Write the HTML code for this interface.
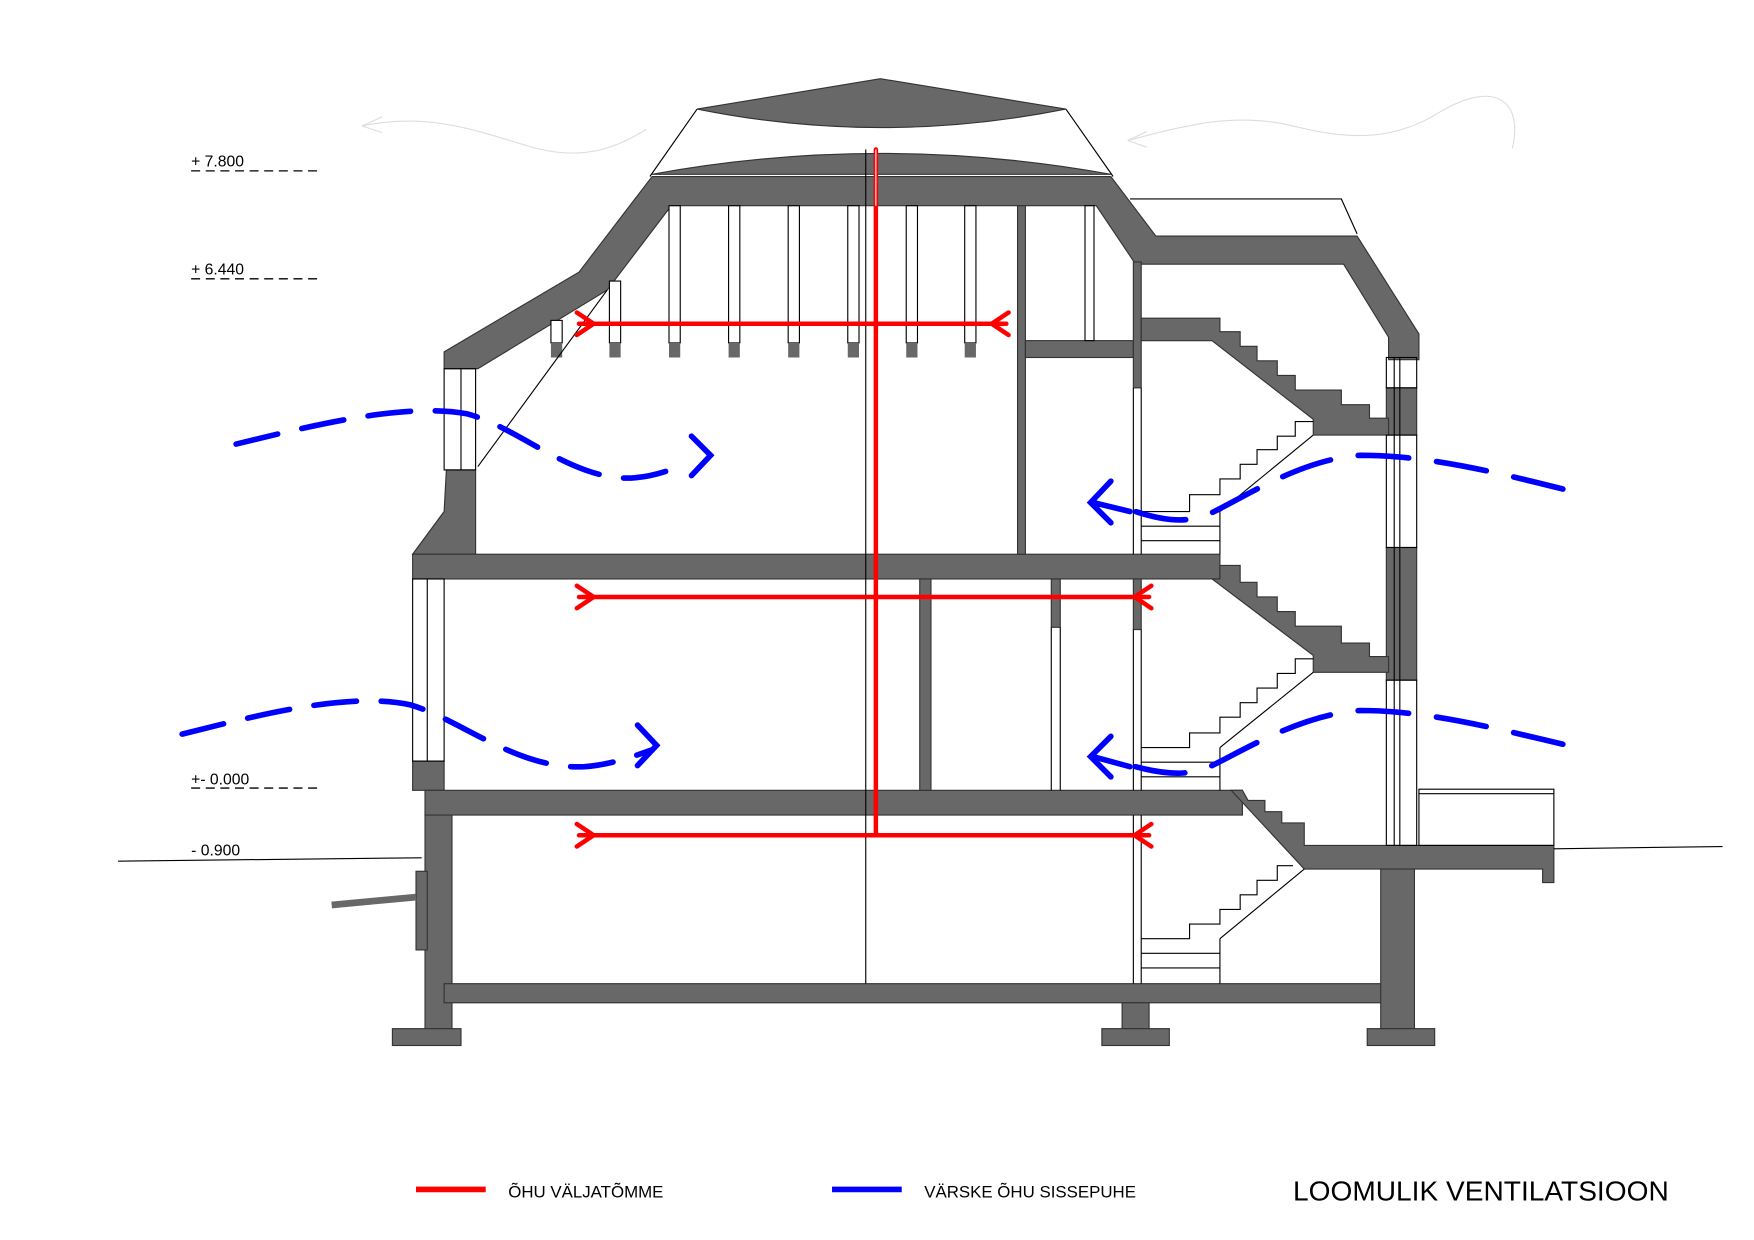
<!DOCTYPE html>
<html><head><meta charset="utf-8"><style>html,body{margin:0;padding:0;background:#fff}svg{display:block}</style></head>
<body>
<svg width="1754" height="1240" viewBox="0 0 1560 1103" preserveAspectRatio="none" xmlns="http://www.w3.org/2000/svg" font-family="Liberation Sans, sans-serif">
<rect width="1560" height="1103" fill="#fff"/>
<!-- faint wind lines -->
<path d="M322,112 C380,100 420,115 470,130 C520,145 550,130 575,115" fill="none" stroke="#ddd" stroke-width="1"/>
<path d="M322,112 L340,104 M322,112 L340,118" stroke="#ddd" stroke-width="1"/>
<path d="M1003,125 C1060,110 1100,100 1150,112 C1200,125 1240,125 1280,100 C1330,70 1355,90 1345,132" fill="none" stroke="#ddd" stroke-width="1"/>
<path d="M1003,125 L1020,117 M1003,125 L1020,131" stroke="#ddd" stroke-width="1"/>
<g fill="#686868" stroke="#333" stroke-width="1">
<!-- roof cap -->
<path d="M620,97 L783,70 L948,97 Q783,130 620,97 Z"/>
<path d="M580,155 Q783,118 988,155 Z"/>
</g>
<path d="M620,97 L578,157 M948,97 L990,157" stroke="#000" stroke-width="1"/>
<path d="M1005,177 L1193,177 L1207,208" fill="none" stroke="#000" stroke-width="1"/>
<g fill="#686868" stroke="#333" stroke-width="1">
<!-- main roof band -->
<path d="M395,313 L515,242 L580,157 L988,157 L1028,210 L1207,210 L1262,297 L1262,320 L1235,320 L1235,300 L1195,235 L1010,235 L975,183 L597,183 L540,258 L425,328 L395,328 Z"/>
<!-- left wall upper -->
<path d="M397,418 L423,418 L423,493 L367,493 L367,493 L395,455 Z"/>
<rect x="367" y="493" width="718" height="22"/>
<rect x="367" y="677" width="28" height="26"/>
<rect x="378" y="703" width="727" height="22"/>
<path d="M1095,703 L1105,703 L1110,712 L1125,712 L1125,722 L1140,722 L1140,732 L1160,732 L1160,752 L1382,752 L1382,785 L1372,785 L1372,773 L1160,773 Z"/>
<!-- basement -->
<rect x="378" y="725" width="24" height="190"/>
<rect x="370" y="775" width="10" height="70"/>
<rect x="349" y="915" width="61" height="15"/>
<rect x="395" y="875" width="860" height="17"/>
<rect x="998" y="892" width="24" height="23"/>
<rect x="980" y="915" width="60" height="15"/>
<rect x="1228" y="773" width="30" height="142"/>
<rect x="1216" y="915" width="60" height="15"/>
<!-- right wall -->
<rect x="1233" y="345" width="27" height="42"/>
<rect x="1233" y="487" width="27" height="118"/>
<!-- attic interior -->
<rect x="905" y="183" width="7" height="310"/>
<rect x="912" y="303" width="96" height="15"/>
<rect x="1008" y="233" width="7" height="112"/>
<rect x="818" y="515" width="10" height="188"/>
<rect x="935" y="515" width="8" height="43"/>
<rect x="1008" y="515" width="7" height="45"/>
<!-- stairs -->
<path d="M1015,283 L1085,283 L1085,295 L1103,295 L1103,308 L1118,308 L1118,321 L1136,321 L1136,334 L1152,334 L1152,347 L1193,347 L1193,360 L1218,360 L1218,372 L1235,372 L1235,387 L1168,387 L1168,373 L1078,303 L1015,303 Z"/>
<path d="M1085,503 L1103,503 L1103,518 L1118,518 L1118,531 L1136,531 L1136,544 L1152,544 L1152,557 L1193,557 L1193,572 L1218,572 L1218,584 L1235,584 L1235,598 L1168,598 L1168,583 L1078,515 L1085,515 Z"/>
</g>
<!-- posts -->
<g fill="#fff" stroke="#000" stroke-width="1">
<rect x="490" y="285" width="10" height="20"/><rect x="542" y="250" width="10" height="55"/>
<rect x="595" y="183" width="10" height="122"/><rect x="648" y="183" width="10" height="122"/>
<rect x="701" y="183" width="10" height="122"/><rect x="754" y="183" width="10" height="122"/>
<rect x="806" y="183" width="10" height="122"/><rect x="858" y="183" width="10" height="122"/>
<rect x="965" y="183" width="8" height="120"/>
</g>
<g fill="#686868"><rect x="490" y="305" width="10" height="13"/><rect x="542" y="305" width="10" height="13"/><rect x="595" y="305" width="10" height="13"/><rect x="648" y="305" width="10" height="13"/><rect x="701" y="305" width="10" height="13"/><rect x="754" y="305" width="10" height="13"/><rect x="806" y="305" width="10" height="13"/><rect x="858" y="305" width="10" height="13"/></g>
<g fill="none" stroke="#000" stroke-width="1">
<!-- windows -->
<rect x="395" y="328" width="28" height="90"/><line x1="410" y1="328" x2="410" y2="418"/>
<rect x="367" y="515" width="28" height="162"/><line x1="380" y1="515" x2="380" y2="677"/>
<rect x="1233" y="318" width="27" height="27"/><line x1="1240" y1="318" x2="1240" y2="752"/><line x1="1245" y1="318" x2="1245" y2="752"/>
<rect x="1233" y="387" width="27" height="100"/>
<rect x="1233" y="605" width="27" height="147"/>
<line x1="425" y1="415" x2="540" y2="258"/>
<line x1="1008" y1="345" x2="1008" y2="493"/><line x1="1015" y1="345" x2="1015" y2="493"/>
<line x1="1008" y1="560" x2="1008" y2="703"/><line x1="1015" y1="560" x2="1015" y2="703"/>
<line x1="1008" y1="725" x2="1008" y2="875"/><line x1="1015" y1="725" x2="1015" y2="875"/>
<line x1="935" y1="558" x2="935" y2="703"/><line x1="943" y1="558" x2="943" y2="703"/>
<line x1="770" y1="133" x2="770" y2="875"/>
<!-- white stairs -->
<path d="M1168,387 L1085,455 M1168,375 L1152,375 L1152,388 L1136,388 L1136,400 L1118,400 L1118,413 L1103,413 L1103,426 L1085,426 L1085,440 L1058,440 L1058,455 L1015,455 M1015,468 L1085,468 M1015,481 L1085,481 M1085,455 L1085,493"/>
<path d="M1168,598 L1085,665 M1168,586 L1152,586 L1152,599 L1136,599 L1136,612 L1118,612 L1118,625 L1103,625 L1103,638 L1085,638 L1085,652 L1058,652 L1058,665 L1015,665 M1015,678 L1085,678 M1015,691 L1085,691 M1085,665 L1085,703"/>
<path d="M1160,773 L1085,835 M1150,770 L1136,770 L1136,783 L1118,783 L1118,796 L1103,796 L1103,809 L1085,809 L1085,822 L1058,822 L1058,835 L1015,835 M1015,848 L1085,848 M1015,861 L1085,861 M1085,835 L1085,875"/>
<rect x="1262" y="702" width="120" height="50"/><line x1="1262" y1="706" x2="1382" y2="706"/>
<line x1="105" y1="766" x2="375" y2="763"/><line x1="1382" y1="755" x2="1532" y2="753"/>
</g>
<line x1="295" y1="805" x2="370" y2="798" stroke="#686868" stroke-width="6"/>
<!-- red -->
<g stroke="#ff0000" stroke-width="4" fill="none" stroke-linecap="round">
<line x1="779" y1="133" x2="779" y2="743"/>
<line x1="515" y1="288" x2="895" y2="288"/>
<line x1="515" y1="531" x2="1022" y2="531"/>
<line x1="515" y1="743" x2="1022" y2="743"/>
<path d="M513,278 L528,288 L513,298 M513,521 L528,531 L513,541 M513,733 L528,743 L513,753"/>
<path d="M897,278 L882,288 L897,298 M1024,521 L1009,531 L1024,541 M1024,733 L1009,743 L1024,753"/>
</g>
<line x1="779" y1="133" x2="779" y2="183" stroke="#fff" stroke-width="1"/>
<!-- blue -->
<g stroke="#0000ff" stroke-width="5" fill="none" stroke-linecap="round">
<path d="M210,395 C280,378 360,358 415,368 C460,380 500,420 550,425 C575,427 595,418 605,415" stroke-dasharray="38,22"/>
<path d="M615,388 L632,405 L615,423"/>
<path d="M162,653 C230,636 310,615 365,627 C410,640 460,685 520,682 C545,680 565,672 580,667" stroke-dasharray="38,22"/>
<path d="M567,645 L584,663 L567,681"/>
<path d="M1390,435 C1330,420 1270,405 1210,405 C1160,408 1110,440 1080,455 C1060,465 1040,465 1010,455" stroke-dasharray="45,25"/>
<path d="M988,428 L970,447 L988,465 M972,447 L1005,455"/>
<path d="M1390,662 C1330,648 1270,632 1210,632 C1160,635 1110,665 1080,680 C1060,690 1040,690 1010,682" stroke-dasharray="45,25"/>
<path d="M988,655 L970,673 L988,691 M972,673 L1005,682"/>
</g>
<!-- levels -->
<g font-size="14" fill="#000">
<text x="170" y="148">+ 7.800</text><text x="170" y="244">+ 6.440</text>
<text x="170" y="698">+- 0.000</text><text x="170" y="761">- 0.900</text>
</g>
<g stroke="#000" stroke-width="1.2" stroke-dasharray="8,5">
<line x1="170" y1="152" x2="287" y2="152"/><line x1="170" y1="248" x2="287" y2="248"/><line x1="170" y1="701" x2="287" y2="701"/>
</g>
<!-- legend -->
<line x1="370" y1="1058" x2="432" y2="1058" stroke="#ff0000" stroke-width="5"/>
<text x="452" y="1065" font-size="15">ÕHU VÄLJATÕMME</text>
<line x1="740" y1="1058" x2="802" y2="1058" stroke="#0000ff" stroke-width="5"/>
<text x="822" y="1065" font-size="15">VÄRSKE ÕHU SISSEPUHE</text>
<text x="1150" y="1068" font-size="25">LOOMULIK VENTILATSIOON</text>
</svg>
</body></html>
